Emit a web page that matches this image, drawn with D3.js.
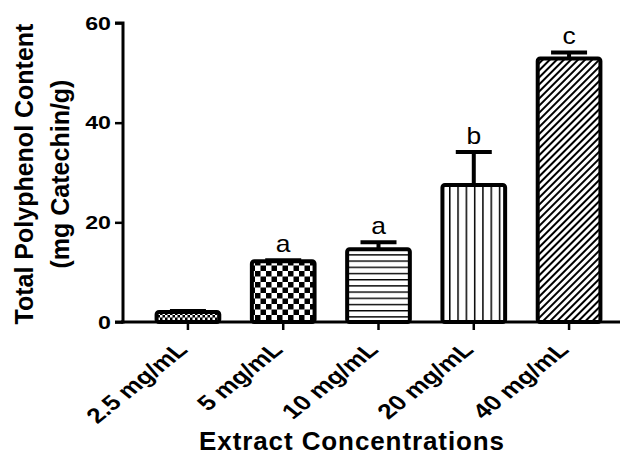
<!DOCTYPE html>
<html>
<head>
<meta charset="utf-8">
<script src="https://cdn.jsdelivr.net/npm/d3@7"></script>
<style>
body { margin: 0; background: #fff; }
.lbl { font-family: "Liberation Sans", Arial, sans-serif; }
</style>
</head>
<body>
<div id="chart-area"></div>
<script>
// data
var categories = ["2.5 mg/mL", "5 mg/mL", "10 mg/mL", "20 mg/mL", "40 mg/mL"];
var means = [2.0, 12.2, 14.6, 27.5, 52.9];
var sems = [0.2, 0.2, 1.4, 6.6, 1.2];
var letters = ["", "a", "a", "b", "c"];
var yTicks = [0, 20, 40, 60];
var patternIds = ["fine-check", "check", "hlines", "vlines", "diag"];

var width = 620, height = 470;
// the source figure is a little stretched sideways, text follows that
var stretch = 1.25;

var svg = d3.select("#chart-area").append("svg")
	.attr("width", width)
	.attr("height", height);

var defs = svg.append("defs");

// fine checker
var p1 = defs.append("pattern").attr("id", "fine-check")
	.attr("patternUnits", "userSpaceOnUse").attr("width", 5).attr("height", 5);
p1.append("rect").attr("width", 5).attr("height", 5).attr("fill", "#000");
p1.append("rect").attr("x", 0).attr("y", 0).attr("width", 2.5).attr("height", 2.5).attr("fill", "#fff");
p1.append("rect").attr("x", 2.5).attr("y", 2.5).attr("width", 2.5).attr("height", 2.5).attr("fill", "#fff");

// checkerboard
var p2 = defs.append("pattern").attr("id", "check")
	.attr("patternUnits", "userSpaceOnUse").attr("width", 11).attr("height", 11)
	.attr("x", 244).attr("y", 260);
p2.append("rect").attr("width", 11).attr("height", 11).attr("fill", "#fff");
p2.append("rect").attr("x", 0).attr("y", 0).attr("width", 5.5).attr("height", 5.5).attr("fill", "#000");
p2.append("rect").attr("x", 5.5).attr("y", 5.5).attr("width", 5.5).attr("height", 5.5).attr("fill", "#000");

// horizontal lines
var p3 = defs.append("pattern").attr("id", "hlines")
	.attr("patternUnits", "userSpaceOnUse").attr("width", 6).attr("height", 6.2);
p3.append("rect").attr("width", 6).attr("height", 6.2).attr("fill", "#fff");
p3.append("rect").attr("y", 0).attr("width", 6).attr("height", 1.4).attr("fill", "#000");

// vertical lines
var p4 = defs.append("pattern").attr("id", "vlines")
	.attr("patternUnits", "userSpaceOnUse").attr("width", 8.3).attr("height", 6)
	.attr("x", 449);
p4.append("rect").attr("width", 8.3).attr("height", 6).attr("fill", "#fff");
p4.append("rect").attr("x", 0).attr("width", 1.5).attr("height", 6).attr("fill", "#000");

// diagonal hatch
var p5 = defs.append("pattern").attr("id", "diag")
	.attr("patternUnits", "userSpaceOnUse").attr("width", 5).attr("height", 5)
	.attr("patternTransform", "rotate(45)");
p5.append("rect").attr("width", 5).attr("height", 5).attr("fill", "#fff");
p5.append("rect").attr("x", 0).attr("width", 2).attr("height", 5).attr("fill", "#000");

var x = d3.scaleBand()
	.domain(categories)
	.range([126, 631])
	.padding(0.3);

var y = d3.scaleLinear()
	.domain([0, 60])
	.range([322, 23]);

// bars
svg.selectAll(".bar")
	.data(categories)
	.enter().append("rect")
	.attr("class", "bar")
	.attr("x", function(d) { return x(d) + 2; })
	.attr("y", function(d, i) { return y(means[i]); })
	.attr("width", x.bandwidth() - 4)
	.attr("height", function(d, i) { return y(0) - y(means[i]); })
	.attr("rx", 2.5)
	.attr("fill", function(d, i) { return "url(#" + patternIds[i] + ")"; })
	.attr("stroke", "#000")
	.attr("stroke-width", 4);

// error bars
var err = svg.selectAll(".err")
	.data(categories)
	.enter().append("g")
	.attr("class", "err");

err.append("line")
	.attr("x1", function(d) { return x(d) + x.bandwidth() / 2; })
	.attr("x2", function(d) { return x(d) + x.bandwidth() / 2; })
	.attr("y1", function(d, i) { return y(means[i]); })
	.attr("y2", function(d, i) { return y(means[i] + sems[i]); })
	.attr("stroke", "#000")
	.attr("stroke-width", 4);

err.append("line")
	.attr("x1", function(d) { return x(d) + x.bandwidth() / 2 - 18; })
	.attr("x2", function(d) { return x(d) + x.bandwidth() / 2 + 18; })
	.attr("y1", function(d, i) { return y(means[i] + sems[i]); })
	.attr("y2", function(d, i) { return y(means[i] + sems[i]); })
	.attr("stroke", "#000")
	.attr("stroke-width", 4);

// significance letters
svg.selectAll(".letter")
	.data(categories)
	.enter().append("text")
	.attr("class", "letter lbl")
	.attr("transform", function(d, i) {
		return "translate(" + (x(d) + x.bandwidth() / 2) + "," + (y(means[i] + sems[i]) - 8) + ") scale(1.15,1)";
	})
	.attr("text-anchor", "middle")
	.attr("font-size", 23)
	.text(function(d, i) { return letters[i]; });

// y axis
var yAxis = d3.axisLeft(y)
	.tickValues(yTicks)
	.tickSize(8)
	.tickPadding(4);

var gy = svg.append("g")
	.attr("transform", "translate(123,0)")
	.call(yAxis);
gy.select(".domain").attr("stroke-width", 3).attr("d", "M-8,23H0V322H-8");
gy.selectAll(".tick line").attr("stroke-width", 2.5);
gy.selectAll(".tick text")
	.attr("class", "lbl")
	.attr("font-size", 19)
	.attr("font-weight", "bold")
	.attr("fill", "#000")
	.attr("x", 0)
	.attr("transform", "translate(-12,0) scale(1.22,1)");

// x axis
var xAxis = d3.axisBottom(x)
	.tickSize(8)
	.tickSizeOuter(0);

var gx = svg.append("g")
	.attr("transform", "translate(0,322)")
	.call(xAxis);
gx.select(".domain").attr("stroke-width", 3).attr("d", "M121,0H620");
gx.selectAll(".tick line").attr("stroke-width", 2.5);
gx.selectAll(".tick text")
	.attr("class", "lbl")
	.attr("font-size", 21)
	.attr("font-weight", "bold")
	.attr("fill", "#000")
	.attr("text-anchor", "end")
	.attr("dy", null)
	.attr("y", 0)
	.attr("x", 0)
	.attr("transform", "translate(1,29) scale(" + stretch + ",1) rotate(-45)");

// axis titles
svg.append("text")
	.attr("class", "lbl")
	.attr("x", 352)
	.attr("y", 450)
	.attr("text-anchor", "middle")
	.attr("font-size", 26)
	.attr("font-weight", "bold")
	.attr("letter-spacing", 0.9)
	.text("Extract Concentrations");

var yt = svg.append("text")
	.attr("class", "lbl")
	.attr("transform", "translate(33,174) rotate(-90)")
	.attr("text-anchor", "middle")
	.attr("font-size", 25)
	.attr("font-weight", "bold");
yt.append("tspan").attr("x", 0).attr("y", 0).text("Total Polyphenol Content");
yt.append("tspan").attr("x", 0).attr("y", 36).text("(mg Catechin/g)");
</script>
</body>
</html>
